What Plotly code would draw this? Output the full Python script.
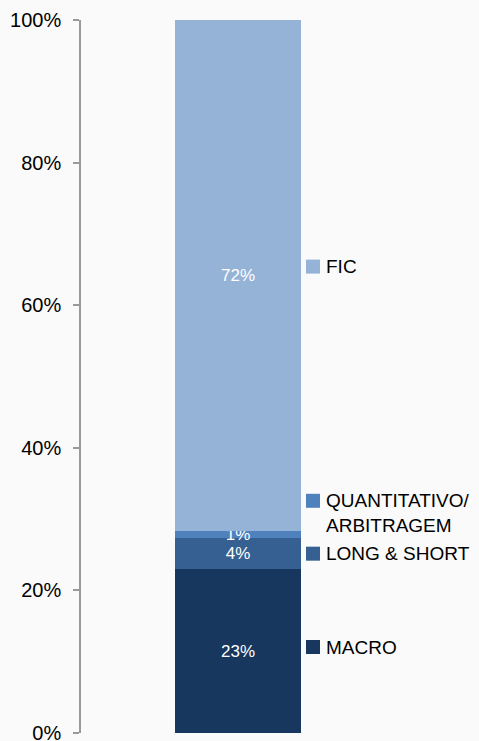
import plotly.graph_objects as go

# Stacked allocation by strategy (percent of total)
categories = ["Total"]
strategies = ["MACRO", "LONG & SHORT", "QUANTITATIVO/<br>ARBITRAGEM", "FIC"]
shares = [23.0, 4.3, 1.0, 71.7]
colors = ["#17375E", "#366092", "#4F81BD", "#95B3D7"]
tick_vals = [0, 20, 40, 60, 80, 100]
tick_text = ["0%", "20%", "40%", "60%", "80%", "100%"]

# vertical pixel nudges for the side labels (text block and colour square),
# relative to the middle of each segment
text_shift = [4, 0, 22, 9]
square_shift = [4, 0, 34, 9]

FONT = "Liberation Sans, Arial, sans-serif"
BG = "#FAFAFA"

fig = go.Figure()
for name, val, col in zip(strategies, shares, colors):
    fig.add_trace(go.Bar(
        x=categories, y=[val], name=name,
        marker=dict(color=col, line=dict(width=0)),
        width=0.4,
        text=[f"{val:.0f}%"], textposition="inside",
        insidetextanchor="middle", constraintext="none",
        textfont=dict(color="#FFFFFF", size=17, family=FONT),
        showlegend=False, hoverinfo="skip",
    ))

# side labels with colour squares, placed next to each segment
cum = 0.0
for name, val, col, dt, ds in zip(strategies, shares, colors, text_shift, square_shift):
    mid = cum + val / 2
    cum += val
    fig.add_shape(
        type="rect", xref="paper", yref="y",
        xsizemode="pixel", ysizemode="pixel",
        xanchor=0.7166, yanchor=mid,
        x0=0, x1=14, y0=-7 + ds, y1=7 + ds,
        fillcolor=col, line=dict(width=0), layer="above",
    )
    fig.add_annotation(
        x=0.775, xref="paper", y=mid, yref="y",
        xanchor="left", yanchor="middle", yshift=dt,
        text=name, showarrow=False, align="left",
        font=dict(size=19, color="#000000", family=FONT),
    )

fig.update_layout(
    barmode="stack",
    width=479, height=741,
    margin=dict(l=81, r=84, t=20, b=8, autoexpand=False),
    paper_bgcolor=BG, plot_bgcolor=BG,
    font=dict(family=FONT, size=19, color="#000000"),
    xaxis=dict(
        range=[-0.5, 0.5], showticklabels=False, showgrid=False,
        zeroline=False, showline=False, ticks="", automargin=False,
    ),
    yaxis=dict(
        range=[0, 100], tickvals=tick_vals, ticktext=tick_text,
        showgrid=False, zeroline=False, automargin=False,
        showline=True, linecolor="#999999", linewidth=1.5,
        ticks="outside", ticklen=6, tickcolor="#999999", tickwidth=1.5,
        ticklabelstandoff=8, ticklabeloverflow="allow",
        tickfont=dict(size=20, family=FONT, color="#000000"),
    ),
)

fig.write_html("out.html")
